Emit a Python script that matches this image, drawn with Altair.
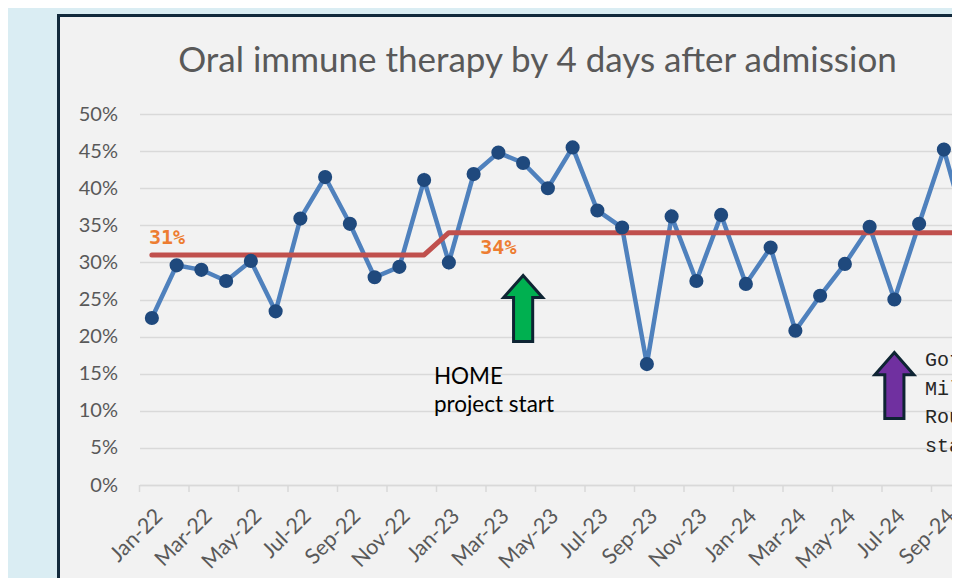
import altair as alt
import pandas as pd

# ---------------- data ----------------
months = [
    "Jan-22", "Feb-22", "Mar-22", "Apr-22", "May-22", "Jun-22", "Jul-22", "Aug-22",
    "Sep-22", "Oct-22", "Nov-22", "Dec-22", "Jan-23", "Feb-23", "Mar-23", "Apr-23",
    "May-23", "Jun-23", "Jul-23", "Aug-23", "Sep-23", "Oct-23", "Nov-23", "Dec-23",
    "Jan-24", "Feb-24", "Mar-24", "Apr-24", "May-24", "Jun-24", "Jul-24", "Aug-24",
    "Sep-24", "Oct-24",
]
rate = [
    0.225, 0.296, 0.290, 0.275, 0.302, 0.234, 0.359, 0.415,
    0.352, 0.280, 0.294, 0.411, 0.300, 0.419, 0.448, 0.434,
    0.400, 0.455, 0.370, 0.347, 0.163, 0.362, 0.275, 0.364,
    0.271, 0.320, 0.208, 0.255, 0.298, 0.348, 0.250, 0.352,
    0.452, 0.332,
]
median = [
    0.31, 0.31, 0.31, 0.31, 0.31, 0.31, 0.31, 0.31,
    0.31, 0.31, 0.31, 0.31, 0.34, 0.34, 0.34, 0.34,
    0.34, 0.34, 0.34, 0.34, 0.34, 0.34, 0.34, 0.34,
    0.34, 0.34, 0.34, 0.34, 0.34, 0.34, 0.34, 0.34,
    0.34, 0.34,
]
label_months = ["Jan-22", "Mar-22", "May-22", "Jul-22", "Sep-22", "Nov-22",
                "Jan-23", "Mar-23", "May-23", "Jul-23", "Sep-23", "Nov-23",
                "Jan-24", "Mar-24", "May-24", "Jul-24", "Sep-24"]
y_ticks = [0.0, 0.05, 0.10, 0.15, 0.20, 0.25, 0.30, 0.35, 0.40, 0.45, 0.50]

median_labels_month = ["Jan-22", "Mar-23"]
median_labels_value = [0.31, 0.34]
median_labels_text = ["31%", "34%"]

arrow_months = ["Apr-23", "Jul-24"]
arrow_values = [0.238, 0.134]
arrow_colors = ["#00B050", "#7030A0"]

title_text = "Oral immune therapy by 4 days after admission"
home_text = ["HOME", "project start"]
home_month = "Jan-23"
home_value = 0.136
milk_text = ["Got", "Milk?", "Rounds", "start"]
milk_month = "Jul-24"
milk_value = 0.160

# ---------------- layout constants ----------------
PLOT_W = 812.5          # visible part of the plot inside the svg
FULL_W = 841.5          # full category range (extends past the window)
PLOT_H = 371

df = pd.DataFrame({"month": months, "rate": rate, "median": median})
ticks_df = pd.DataFrame({"month": label_months})
mlab_df = pd.DataFrame({"month": median_labels_month, "value": median_labels_value,
                        "text": median_labels_text})
arrow_df = pd.DataFrame({"month": arrow_months, "value": arrow_values, "color": arrow_colors})
home_df = pd.DataFrame({"month": [home_month], "value": [home_value], "text": [home_text]})
milk_df = pd.DataFrame({"month": [milk_month], "value": [milk_value], "text": [milk_text]})
title_df = pd.DataFrame({"text": [title_text]})

xscale = alt.Scale(type="band", domain=months, range=[0, FULL_W],
                   paddingInner=0, paddingOuter=0)
yscale = alt.Scale(domain=[0, 0.5], nice=False, zero=True)

x_axis = alt.Axis(values=label_months, labelAngle=-45, labelFont="Lato",
                  labelFontSize=21.5, labelColor="#595959", ticks=False,
                  domainColor="#D9D9D9", domainWidth=1.5, grid=False,
                  labelPadding=20, labelOverlap=False)
y_axis = alt.Axis(values=y_ticks, format=".0%", labelFont="Lato",
                  labelFontSize=20, labelColor="#595959", ticks=False,
                  tickSize=0, domain=False, gridColor="#D9D9D9",
                  gridWidth=1.5, labelPadding=22, labelOverlap=False)

X = alt.X("month:N", scale=xscale, sort=months, title=None, axis=x_axis)
Yr = alt.Y("rate:Q", scale=yscale, title=None, axis=y_axis)

base = alt.Chart(df)

# outer light-blue surround and dark chart border
blue_left = base.mark_rect(color="#DAEDF3").encode(
    x=alt.value(-131.5), x2=alt.value(-82.2), y=alt.value(-106), y2=alt.value(470))
blue_top = base.mark_rect(color="#DAEDF3").encode(
    x=alt.value(-131.5), x2=alt.value(900), y=alt.value(-106), y2=alt.value(-99.7))
border_left = base.mark_rule(color="#132B3C", strokeWidth=2).encode(
    x=alt.value(-81.2), y=alt.value(-99.7), y2=alt.value(470))
border_top = base.mark_rule(color="#132B3C", strokeWidth=2).encode(
    x=alt.value(-82.2), x2=alt.value(900), y=alt.value(-98.7))

title = alt.Chart(title_df).mark_text(
    font="Lato", fontSize=35, color="#595959", align="center", baseline="alphabetic"
).encode(x=alt.value(398), y=alt.value(-42), text="text:N")

ticks = alt.Chart(ticks_df).mark_rule(color="#D9D9D9", strokeWidth=1.5).encode(
    x=alt.X("month:N", scale=xscale, sort=months, bandPosition=0, axis=x_axis, title=None),
    y=alt.value(PLOT_H), y2=alt.value(PLOT_H + 7))

line = base.mark_line(color="#4F81BD", strokeWidth=4.5).encode(x=X, y=Yr)
points = base.mark_point(filled=True, color="#1F497D", size=200, opacity=1).encode(
    x=X, y=Yr)
med = base.mark_line(color="#C0504D", strokeWidth=5, strokeCap="round",
                     strokeJoin="round").encode(
    x=X, y=alt.Y("median:Q", scale=yscale, title=None, axis=y_axis))

mlab31 = alt.Chart(mlab_df).transform_filter(alt.datum.text == "31%").mark_text(
    font="DejaVu Sans Mono", fontWeight="bold", fontSize=20, color="#ED7D31",
    align="left", baseline="alphabetic", dx=-3, dy=-11
).encode(x=X, y=alt.Y("value:Q", scale=yscale, title=None, axis=y_axis), text="text:N")
mlab34 = alt.Chart(mlab_df).transform_filter(alt.datum.text == "34%").mark_text(
    font="DejaVu Sans Mono", fontWeight="bold", fontSize=20, color="#ED7D31",
    align="center", baseline="alphabetic", dy=21
).encode(x=X, y=alt.Y("value:Q", scale=yscale, title=None, axis=y_axis), text="text:N")

arrow_path = ("M -0.29 1 L 0.29 1 L 0.29 -0.33 L 0.59 -0.33 L 0 -1 "
              "L -0.59 -0.33 L -0.29 -0.33 Z")
arrows = alt.Chart(arrow_df).mark_point(
    shape=arrow_path, filled=True, size=4356, stroke="#0E2433", strokeWidth=3,
    opacity=1, strokeJoin="miter"
).encode(x=X, y=alt.Y("value:Q", scale=yscale, title=None, axis=y_axis),
         fill=alt.Fill("color:N", scale=None))

home = alt.Chart(home_df).mark_text(
    font="Lato", fontSize=22.5, color="#000000", align="left", baseline="alphabetic",
    lineHeight=28, dx=-15
).encode(x=X, y=alt.Y("value:Q", scale=yscale, title=None, axis=y_axis), text="text")
milk = alt.Chart(milk_df).mark_text(
    font="Liberation Mono", fontSize=20, color="#262626", align="left",
    baseline="alphabetic", lineHeight=28.5, dx=30.5
).encode(x=X, y=alt.Y("value:Q", scale=yscale, title=None, axis=y_axis), text="text")

chart = alt.layer(
    blue_left, blue_top, border_left, border_top, title, ticks,
    line, med, points, mlab31, mlab34, arrows, home, milk
).properties(
    width=PLOT_W, height=PLOT_H,
    autosize=alt.AutoSizeParams(type="none"),
    padding={"left": 131.5, "top": 106, "right": 0, "bottom": 93},
    background="#F2F2F2",
).configure_view(stroke=None).configure_axis(labelOverlap=False)

chart.save("out.html", embed_options={"renderer": "svg", "actions": False})
